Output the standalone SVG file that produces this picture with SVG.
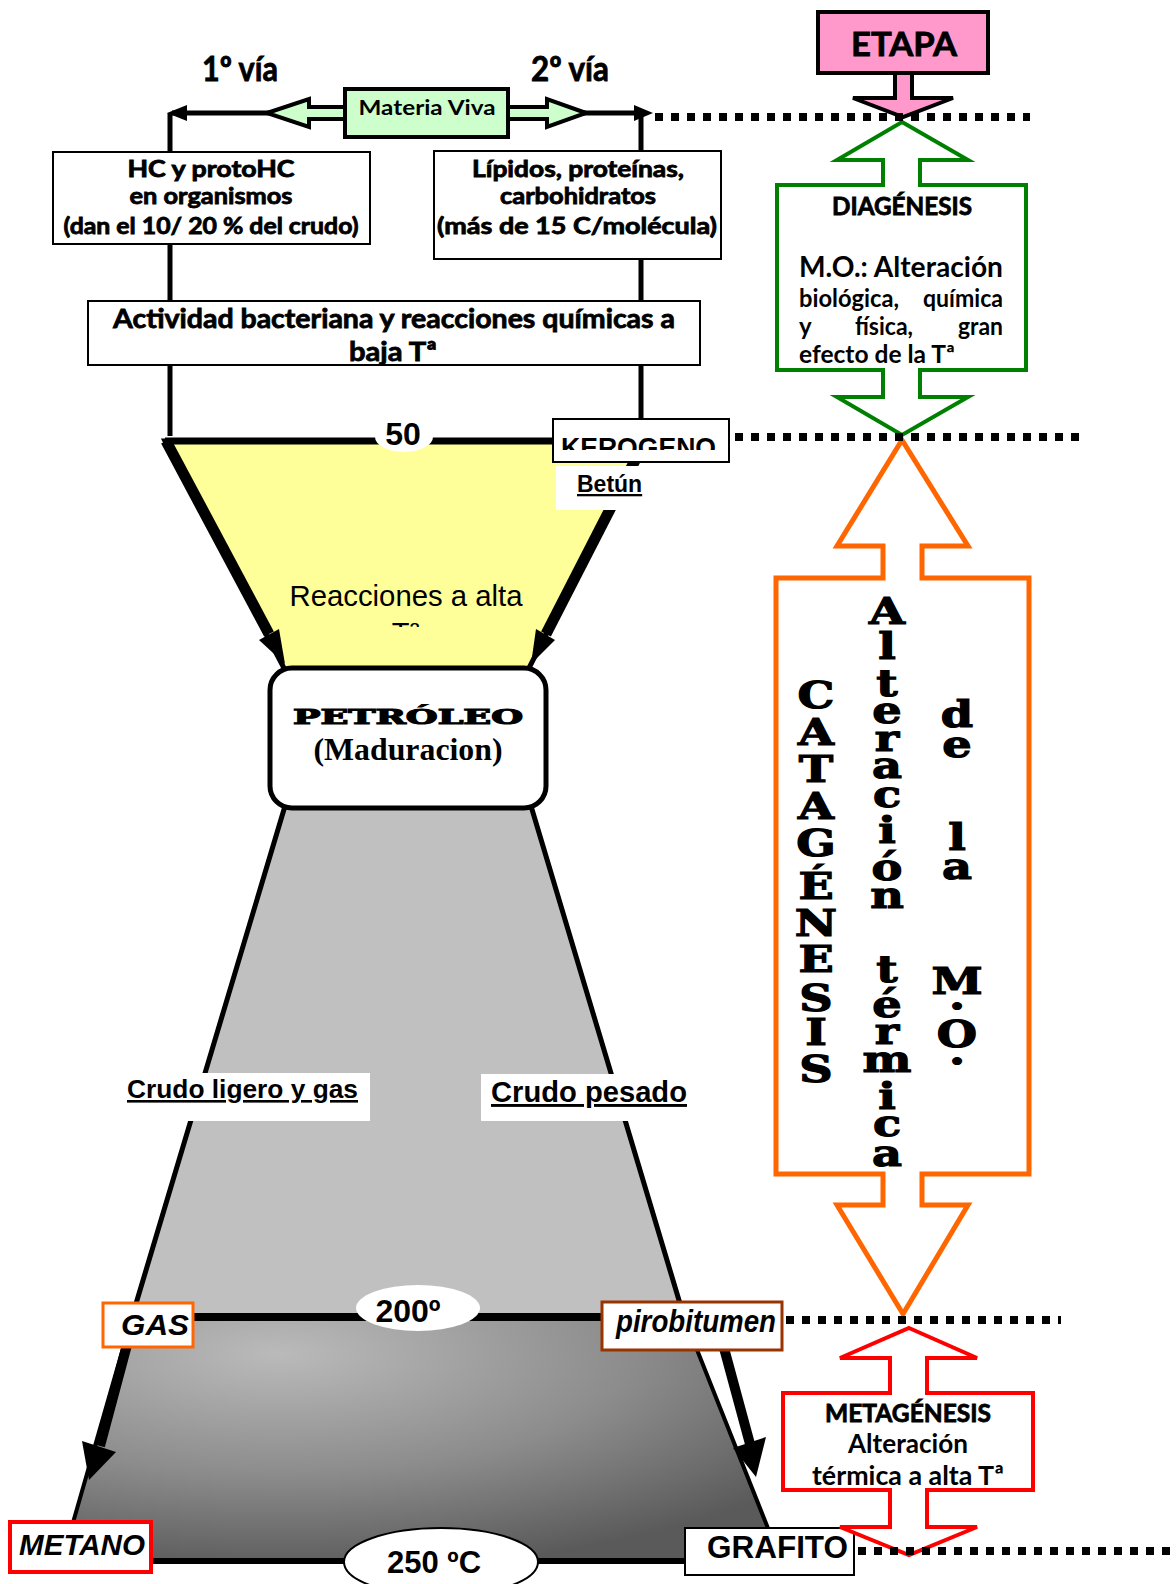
<svg xmlns="http://www.w3.org/2000/svg" width="1176" height="1584" viewBox="0 0 1176 1584">
<defs>
<style>
.gb{font-family:Lato,"Open Sans","Liberation Sans",sans-serif;font-weight:bold;fill:#000}
.gh{font-family:Lato,"Open Sans","Liberation Sans",sans-serif;font-weight:bold;fill:#000;stroke:#000;stroke-width:0.8px}
.ab{font-family:"Liberation Sans",Arial,sans-serif;font-weight:bold;fill:#000}
.ar{font-family:"Liberation Sans",Arial,sans-serif;fill:#000}
.wl{font-family:"DejaVu Serif","Liberation Serif",serif;font-weight:bold;fill:#000;stroke:#000;stroke-width:1.2px;text-anchor:middle}
.box{fill:#fff;stroke:#000;stroke-width:2}
.dots{stroke:#000;stroke-width:8;stroke-dasharray:8 8;fill:none}
.vline{stroke:#000;stroke-width:5;fill:none}
.mid{text-anchor:middle}
</style>
<radialGradient id="grad" cx="0.3" cy="0.15" r="0.9">
<stop offset="0" stop-color="#bababa"/>
<stop offset="0.55" stop-color="#8c8c8c"/>
<stop offset="1" stop-color="#5a5a5a"/>
</radialGradient>
<clipPath id="kclip"><rect x="553" y="419" width="176" height="31"/></clipPath>
<clipPath id="rclip"><rect x="200" y="560" width="420" height="67"/></clipPath>
</defs>
<rect width="1176" height="1584" fill="#fff"/>

<g id="funnel">
<polygon points="285,806 531,806 684,1317 132,1317" fill="#c0c0c0" stroke="#000" stroke-width="5"/>
<polygon points="132,1317 684,1317 781,1561 62,1561" fill="url(#grad)" stroke="#000" stroke-width="4"/>
<line x1="132" y1="1317" x2="684" y2="1317" stroke="#000" stroke-width="8"/>
<line x1="62" y1="1561" x2="781" y2="1561" stroke="#000" stroke-width="6"/>
<polygon points="165,441 645,441 527,672 286,672" fill="#ffff99" stroke="#000" stroke-width="5"/>
<line x1="165" y1="441" x2="645" y2="441" stroke="#000" stroke-width="7"/>
</g>

<g id="connectors">
<line class="vline" x1="170" y1="113" x2="170" y2="436"/>
<line class="vline" x1="641" y1="113" x2="641" y2="420"/>
<line x1="172" y1="113" x2="640" y2="113" stroke="#000" stroke-width="5"/>
<polygon points="167,113 187,105 187,121" fill="#000"/>
<polygon points="653,113 634,105 634,121" fill="#000"/>
<line x1="166" y1="441" x2="269" y2="634" stroke="#000" stroke-width="11"/>
<polygon points="279,629 259,640 285,664" fill="#000"/>
<line x1="645" y1="441" x2="546" y2="634" stroke="#000" stroke-width="11"/>
<polygon points="555,640 536,629 531,664" fill="#000"/>
<line x1="127" y1="1345" x2="100" y2="1446" stroke="#000" stroke-width="10"/>
<polygon points="82,1441 116,1452 89,1480" fill="#000"/>
<line x1="724" y1="1348" x2="750" y2="1444" stroke="#000" stroke-width="10"/>
<polygon points="733,1448 766,1437 756,1477" fill="#000"/>
</g>

<g id="materia-viva">
<polygon points="267,113 309,99 309,107 350,107 350,119 309,119 309,127" fill="#ccffcc" stroke="#000" stroke-width="4"/>
<polygon points="586,113 547,99 547,107 505,107 505,119 547,119 547,127" fill="#ccffcc" stroke="#000" stroke-width="4"/>
<rect x="345" y="89" width="163" height="48" fill="#ccffcc" stroke="#000" stroke-width="4"/>
<text class="gb mid" x="427" y="115" font-size="21" textLength="137" lengthAdjust="spacingAndGlyphs">Materia Viva</text>
</g>
<g id="via-labels">
<text class="gh mid" x="240" y="81" font-size="34" textLength="76" lengthAdjust="spacingAndGlyphs">1º vía</text>
<text class="gh mid" x="570" y="81" font-size="34" textLength="78" lengthAdjust="spacingAndGlyphs">2º vía</text>
</g>
<g id="hc-box">
<rect class="box" x="53" y="152" width="317" height="92"/>
<text class="gh mid" x="211" y="177" font-size="22" textLength="167" lengthAdjust="spacingAndGlyphs">HC y protoHC</text>
<text class="gh mid" x="211" y="204" font-size="22" textLength="163" lengthAdjust="spacingAndGlyphs">en organismos</text>
<text class="gh mid" x="211" y="234" font-size="22" textLength="295" lengthAdjust="spacingAndGlyphs">(dan el 10/ 20 % del crudo)</text>
</g>
<g id="lipidos-box">
<rect class="box" x="434" y="151" width="287" height="108"/>
<text class="gh mid" x="578" y="177" font-size="22" textLength="212" lengthAdjust="spacingAndGlyphs">Lípidos, proteínas,</text>
<text class="gh mid" x="578" y="204" font-size="22" textLength="156" lengthAdjust="spacingAndGlyphs">carbohidratos</text>
<text class="gh mid" x="577" y="234" font-size="22" textLength="280" lengthAdjust="spacingAndGlyphs">(más de 15 C/molécula)</text>
</g>
<g id="actividad-box">
<rect class="box" x="88" y="301" width="612" height="64"/>
<text class="gh" x="113" y="328" font-size="27" textLength="562" lengthAdjust="spacingAndGlyphs">Actividad bacteriana y reacciones químicas a</text>
<text class="gh mid" x="393" y="361" font-size="27" textLength="88" lengthAdjust="spacingAndGlyphs">baja Tª</text>
</g>

<g id="label-50">
<ellipse cx="404" cy="437" rx="29" ry="15" fill="#fff"/>
<text class="ab mid" x="403" y="445" font-size="32">50</text>
</g>
<g id="kerogeno">
<rect class="box" x="553" y="419" width="176" height="43"/>
<text class="ab" x="561" y="457" font-size="27" textLength="155" lengthAdjust="spacingAndGlyphs" clip-path="url(#kclip)">KEROGENO</text>
</g>
<g id="betun">
<rect x="556" y="466" width="88" height="44" fill="#fff"/>
<text class="ab" x="577" y="492" font-size="23" text-decoration="underline">Betún</text>
</g>
<g id="reacciones">
<text class="ar mid" x="406" y="606" font-size="29" textLength="233" lengthAdjust="spacingAndGlyphs">Reacciones a alta</text>
<text class="ar mid" x="406" y="643" font-size="29" clip-path="url(#rclip)">Tª</text>
</g>
<g id="petroleo">
<rect x="270" y="668" width="276" height="140" rx="22" fill="#fff" stroke="#000" stroke-width="5"/>
<text class="wl" x="408" y="724" font-size="21" textLength="230" lengthAdjust="spacingAndGlyphs">PETRÓLEO</text>
<text x="408" y="760" font-size="31" font-weight="bold" font-family="'Liberation Serif','Times New Roman',serif" text-anchor="middle" textLength="189" lengthAdjust="spacingAndGlyphs">(Maduracion)</text>
</g>
<g id="crudo-ligero">
<rect x="118" y="1073" width="252" height="48" fill="#fff"/>
<text class="ab" x="127" y="1098" font-size="26" textLength="231" lengthAdjust="spacingAndGlyphs" text-decoration="underline">Crudo ligero y gas</text>
</g>
<g id="crudo-pesado">
<rect x="481" y="1074" width="215" height="47" fill="#fff"/>
<text class="ab" x="491" y="1102" font-size="29" textLength="196" lengthAdjust="spacingAndGlyphs" text-decoration="underline">Crudo pesado</text>
</g>
<g id="gas">
<rect x="103" y="1303" width="90" height="44" fill="#fff" stroke="#ff6600" stroke-width="3"/>
<text class="ab" x="121" y="1335" font-size="30" font-style="italic" textLength="68" lengthAdjust="spacingAndGlyphs">GAS</text>
</g>
<g id="pirobitumen">
<rect x="602" y="1302" width="180" height="48" fill="#fff" stroke="#993300" stroke-width="3"/>
<text class="ab" x="616" y="1332" font-size="31" font-style="italic" textLength="160" lengthAdjust="spacingAndGlyphs">pirobitumen</text>
</g>
<g id="t200">
<ellipse cx="418" cy="1308" rx="62" ry="23" fill="#fff"/>
<text class="ab mid" x="408" y="1322" font-size="32">200º</text>
</g>
<g id="metano">
<rect x="10" y="1522" width="141" height="50" fill="#fff" stroke="#ff0000" stroke-width="4"/>
<text class="ab" x="19" y="1555" font-size="30" font-style="italic" textLength="126" lengthAdjust="spacingAndGlyphs">METANO</text>
</g>
<g id="t250">
<ellipse cx="441" cy="1562" rx="97" ry="34" fill="#fff" stroke="#000" stroke-width="2"/>
<text class="ab mid" x="434" y="1573" font-size="31">250 ºC</text>
</g>
<g id="grafito">
<rect class="box" x="685" y="1528" width="169" height="47"/>
<text class="ab" x="707" y="1558" font-size="31" textLength="141" lengthAdjust="spacingAndGlyphs">GRAFITO</text>
</g>

<g id="etapa">
<polygon points="895,71 912,71 912,98 953,98 903,117 853,98 895,98" fill="#ff99cc" stroke="#000" stroke-width="4"/>
<rect x="818" y="12" width="170" height="61" fill="#ff99cc" stroke="#000" stroke-width="4"/>
<text class="gh mid" x="904" y="56" font-size="33" textLength="106" lengthAdjust="spacingAndGlyphs">ETAPA</text>
</g>
<g id="diagenesis">
<polygon points="902,122 968,160 920,160 920,185 1026,185 1026,370 920,370 920,397 968,397 902,435 837,397 883,397 883,370 777,370 777,185 883,185 883,160 837,160" fill="#fff" stroke="#008000" stroke-width="4"/>
<text class="gh mid" x="902" y="215" font-size="24" textLength="140" lengthAdjust="spacingAndGlyphs">DIAGÉNESIS</text>
<text class="gb" x="799" y="277" font-size="28" textLength="204" lengthAdjust="spacingAndGlyphs">M.O.: Alteración</text>
<text class="gb" x="799" y="307" font-size="24" textLength="100" lengthAdjust="spacingAndGlyphs">biológica,</text>
<text class="gb" x="923" y="307" font-size="24" textLength="80" lengthAdjust="spacingAndGlyphs">química</text>
<text class="gb" x="799" y="335" font-size="24">y</text>
<text class="gb" x="855" y="335" font-size="24" textLength="58" lengthAdjust="spacingAndGlyphs">física,</text>
<text class="gb" x="958" y="335" font-size="24" textLength="45" lengthAdjust="spacingAndGlyphs">gran</text>
<text class="gb" x="799" y="363" font-size="24" textLength="156" lengthAdjust="spacingAndGlyphs">efecto de la Tª</text>
</g>
<g id="catagenesis">
<polygon points="902,440 968,546 922,546 922,578 1029,578 1029,1174 922,1174 922,1205 968,1205 903,1314 837,1205 883,1205 883,1174 776,1174 776,578 883,578 883,546 837,546" fill="#fff" stroke="#ff6600" stroke-width="5"/>
<g transform="translate(816,0) scale(1.25,1)">
<text class="wl" font-size="37"><tspan x="0" y="708">C</tspan><tspan x="0" y="745">A</tspan><tspan x="0" y="782">T</tspan><tspan x="0" y="819">A</tspan><tspan x="0" y="856">G</tspan><tspan x="0" y="899">É</tspan><tspan x="0" y="936">N</tspan><tspan x="0" y="972">E</tspan><tspan x="0" y="1011">S</tspan><tspan x="0" y="1045">I</tspan><tspan x="0" y="1082">S</tspan></text>
</g>
<g transform="translate(887,0) scale(1.25,1)">
<text class="wl" font-size="37"><tspan x="0" y="624">A</tspan><tspan x="0" y="659">l</tspan><tspan x="0" y="696">t</tspan><tspan x="0" y="723">e</tspan><tspan x="0" y="751">r</tspan><tspan x="0" y="778">a</tspan><tspan x="0" y="807">c</tspan><tspan x="0" y="843">i</tspan><tspan x="0" y="880">ó</tspan><tspan x="0" y="908">n</tspan><tspan x="0" y="982">t</tspan><tspan x="0" y="1017">é</tspan><tspan x="0" y="1044">r</tspan><tspan x="0" y="1072">m</tspan><tspan x="0" y="1109">i</tspan><tspan x="0" y="1136">c</tspan><tspan x="0" y="1166">a</tspan></text>
</g>
<g transform="translate(957,0) scale(1.25,1)">
<text class="wl" font-size="37"><tspan x="0" y="727">d</tspan><tspan x="0" y="757">e</tspan><tspan x="0" y="850">l</tspan><tspan x="0" y="879">a</tspan><tspan x="0" y="994">M</tspan><tspan x="0" y="1009">.</tspan><tspan x="0" y="1047">O</tspan><tspan x="0" y="1064">.</tspan></text>
</g>
</g>
<g id="metagenesis">
<polygon points="909,1328 977,1358 927,1358 927,1393 1033,1393 1033,1490 927,1490 927,1527 977,1527 909,1555 840,1527 890,1527 890,1490 783,1490 783,1393 890,1393 890,1358 840,1358" fill="#fff" stroke="#ff0000" stroke-width="4"/>
<text class="gh mid" x="908" y="1422" font-size="25" textLength="166" lengthAdjust="spacingAndGlyphs">METAGÉNESIS</text>
<text class="gb mid" x="908" y="1453" font-size="27" textLength="120" lengthAdjust="spacingAndGlyphs">Alteración</text>
<text class="gb mid" x="908" y="1485" font-size="27" textLength="192" lengthAdjust="spacingAndGlyphs">térmica a alta Tª</text>
</g>

<g id="level-lines">
<line class="dots" x1="655" y1="117" x2="1030" y2="117"/>
<line class="dots" x1="735" y1="437" x2="1080" y2="437"/>
<line class="dots" x1="786" y1="1320" x2="1061" y2="1320"/>
<line class="dots" x1="858" y1="1551" x2="1172" y2="1551"/>
</g>
</svg>
